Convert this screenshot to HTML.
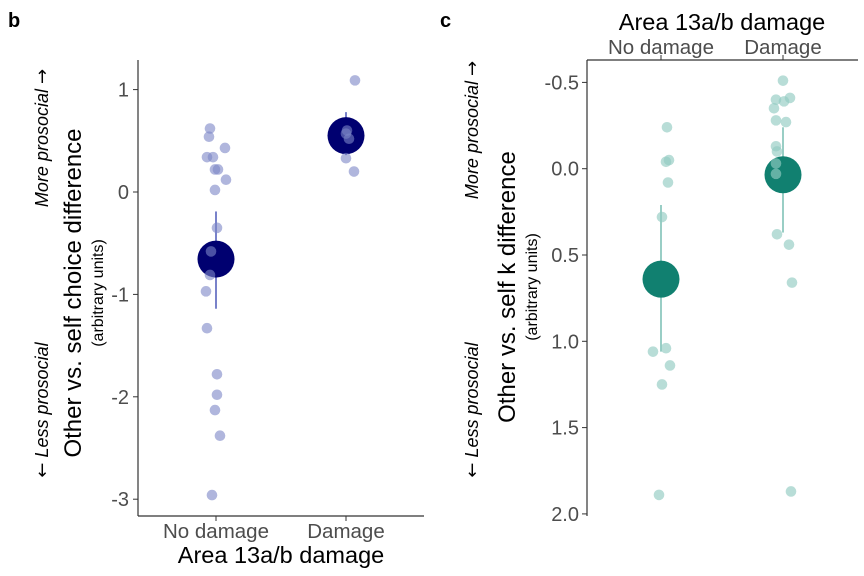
<!DOCTYPE html>
<html><head><meta charset="utf-8"><style>
html,body{margin:0;padding:0;background:#fff;}
svg{display:block;font-family:"Liberation Sans",Arial,sans-serif;}
.ar{font-family:"DejaVu Sans",sans-serif;font-style:normal;}
</style></head><body>
<svg id="chart" width="864" height="576" viewBox="0 0 864 576">
<text x="8" y="27" font-size="20" font-weight="bold">b</text>
<text x="440" y="27" font-size="20" font-weight="bold">c</text>
<g id="pb"></g>
<g id="pc"></g>
</svg>
<script>
const NS='http://www.w3.org/2000/svg';
// Panel b data
const bCategories=['No damage','Damage'];
const bNoDamage=[0.62,0.54,0.43,0.34,0.34,0.22,0.22,0.12,0.02,-0.35,-0.58,-0.81,-0.97,-1.33,-1.78,-1.98,-2.13,-2.38,-2.96];
const bDamage=[1.09,0.6,0.57,0.52,0.33,0.2];
const bMeans=[-0.655,0.55];
const bLow=[-1.14,0.36];
const bHigh=[-0.19,0.78];
const bTicks=[1,0,-1,-2,-3];
const bTickLabels=['1','0','-1','-2','-3'];
// Panel c data
const cCategories=['No damage','Damage'];
const cNoDamage=[-0.24,-0.04,-0.05,0.08,0.28,1.06,1.04,1.14,1.25,1.89];
const cDamage=[-0.51,-0.40,-0.41,-0.39,-0.35,-0.28,-0.27,-0.13,-0.10,-0.03,0.03,0.38,0.44,0.66,1.87];
const cMeans=[0.64,0.035];
const cLow=[0.21,-0.24];
const cHigh=[1.06,0.37];
const cTicks=[-0.5,0,0.5,1,1.5,2];
const cTickLabels=['-0.5','0.0','0.5','1.0','1.5','2.0'];

const bJit=[-6,-7,9,-9,-3,-1,2,10,-1,1,-5,-6,-10,-9,1,1,-1,4,-4];
const bJit2=[9,1,0,3,0,8];
const cJit=[6,5,8,7,1,-8,5,9,1,-2];
const cJit2=[0,-7,7,1,-9,-7,3,-7,-6,-7,-7,-6,6,9,8];

function el(p,t,a,txt){const e=document.createElementNS(NS,t);for(const k in a)e.setAttribute(k,a[k]);if(txt!==undefined)e.textContent=txt;p.appendChild(e);return e;}
function pros(g,x,y,more){
 const t=el(g,'text',{transform:`translate(${x},${y}) rotate(-90)`,'text-anchor':'middle','font-size':18,'font-style':'italic'});
 if(more){t.innerHTML='More prosocial <tspan class="ar">→</tspan>';}
 else{t.innerHTML='<tspan class="ar">←</tspan> Less prosocial';}
 
 
}

// Panel b
(function(){
const g=document.getElementById('pb');
const yb=v=>192-102.4*v;
const xb=[216,346];
el(g,'line',{x1:138,y1:60,x2:138,y2:516,stroke:'#333','stroke-width':1.2});
el(g,'line',{x1:138,y1:516,x2:424,y2:516,stroke:'#333','stroke-width':1.2});
bTicks.forEach((t,i)=>{
 const tk=el(g,'line',{x1:133,x2:138,y1:yb(t),y2:yb(t),stroke:'#333'});
 
 
 const lb=el(g,'text',{x:129,y:yb(t)+7,'text-anchor':'end','font-size':20,fill:'#4d4d4d'},bTickLabels[i]);
 
 
});
bCategories.forEach((c,i)=>{
 el(g,'line',{x1:xb[i],x2:xb[i],y1:516,y2:521,stroke:'#333'});
 const lb=el(g,'text',{x:xb[i],y:538,'text-anchor':'middle','font-size':20.5,fill:'#4d4d4d'},c);
 
 
});
const xt=el(g,'text',{x:281,y:563,'text-anchor':'middle','font-size':23.5},'Area 13a/b damage');


const t1=el(g,'text',{transform:'translate(81,293) rotate(-90)','text-anchor':'middle','font-size':24},'Other vs. self choice difference');


el(g,'text',{transform:'translate(103,293) rotate(-90)','text-anchor':'middle','font-size':16},'(arbitrary units)');
pros(g,48,138,true);
pros(g,48,410,false);
[bNoDamage,bDamage].forEach((arr,i)=>{
 const jit=i?bJit2:bJit;
 el(g,'line',{x1:xb[i],x2:xb[i],y1:yb(bLow[i]),y2:yb(bHigh[i]),stroke:'#6a74c4','stroke-width':1.8});
 const m=el(g,'circle',{cx:xb[i],cy:yb(bMeans[i]),r:18.5,fill:'#000070'});
 
 
 arr.forEach((v,j)=>{
  const c=el(g,'circle',{cx:xb[i]+jit[j],cy:yb(v),r:5.3,fill:'#7c86c6','fill-opacity':0.6});
  
  
 });
});
})();

// Panel c
(function(){
const g=document.getElementById('pc');
const yc=v=>168.7+172.6*v;
const xc=[661,783];
el(g,'line',{x1:587,y1:60,x2:587,y2:516,stroke:'#333','stroke-width':1.2});
el(g,'line',{x1:587,y1:60,x2:858,y2:60,stroke:'#333','stroke-width':1.2});
cTicks.forEach((t,i)=>{
 const tk=el(g,'line',{x1:582,x2:587,y1:yc(t),y2:yc(t),stroke:'#333'});
 
 
 const lb=el(g,'text',{x:579,y:yc(t)+7,'text-anchor':'end','font-size':20,fill:'#4d4d4d'},cTickLabels[i]);
 
 
});
cCategories.forEach((c,i)=>{
 el(g,'line',{x1:xc[i],x2:xc[i],y1:55,y2:60,stroke:'#333'});
 const lb=el(g,'text',{x:xc[i],y:54,'text-anchor':'middle','font-size':20.5,fill:'#4d4d4d'},c);
 
 
});
const xt=el(g,'text',{x:722,y:30,'text-anchor':'middle','font-size':23.5},'Area 13a/b damage');


const t1=el(g,'text',{transform:'translate(515,287) rotate(-90)','text-anchor':'middle','font-size':24},'Other vs. self k difference');


el(g,'text',{transform:'translate(537,287) rotate(-90)','text-anchor':'middle','font-size':16},'(arbitrary units)');
pros(g,478,130,true);
pros(g,478,410,false);
[cNoDamage,cDamage].forEach((arr,i)=>{
 const jit=i?cJit2:cJit;
 el(g,'line',{x1:xc[i],x2:xc[i],y1:yc(cLow[i]),y2:yc(cHigh[i]),stroke:'#8ec9bf','stroke-width':1.8});
 const m=el(g,'circle',{cx:xc[i],cy:yc(cMeans[i]),r:18.5,fill:'#118070'});
 
 
 arr.forEach((v,j)=>{
  const c=el(g,'circle',{cx:xc[i]+jit[j],cy:yc(v),r:5.3,fill:'#92cbc1','fill-opacity':0.65});
  
  
 });
});
})();
</script>
</body></html>
